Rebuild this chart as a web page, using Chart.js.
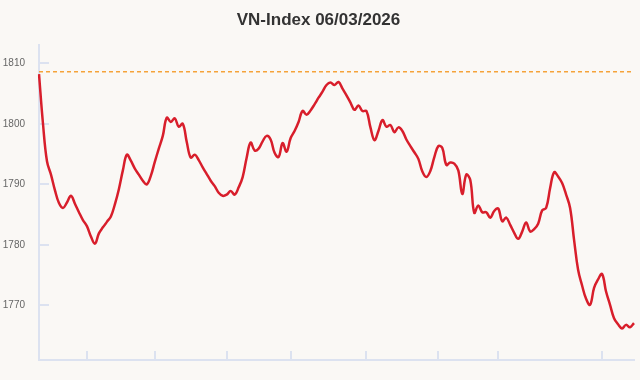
<!DOCTYPE html>
<html>
<head>
<meta charset="utf-8">
<script src="https://cdn.jsdelivr.net/npm/chart.js@4"></script>
<style>
  html, body { margin: 0; padding: 0; background: #faf8f5; }
  #wrap { width: 640px; height: 380px; }
</style>
</head>
<body>
<div id="wrap"><canvas id="myChart" width="640" height="380"></canvas></div>
<script>
var chartTitle = 'VN-Index 06/03/2026';
// intraday index values left to right
var vnIndex = [
  1808.2, 1800.0, 1793.8, 1791.6, 1789.0, 1786.9, 1786.1, 1787.0, 1788.1, 1786.8,
  1785.4, 1784.1, 1783.1, 1781.4, 1780.2, 1781.9, 1782.9, 1783.8, 1784.7, 1786.7,
  1789.2, 1792.3, 1794.9, 1793.9, 1792.6, 1791.6, 1790.6, 1790.0, 1791.4, 1793.7,
  1795.9, 1798.0, 1801.0, 1800.3, 1800.9, 1799.5, 1800.0, 1797.0, 1794.4, 1794.9,
  1794.0, 1792.8, 1791.7, 1790.6, 1789.7, 1788.6, 1788.1, 1788.3, 1788.9, 1788.3,
  1789.5, 1791.2, 1794.4, 1796.9, 1795.6, 1795.9, 1797.1, 1798.0, 1797.4, 1795.2,
  1794.5, 1796.8, 1795.4, 1797.6, 1798.8, 1800.3, 1802.1, 1801.5, 1802.2, 1803.2,
  1804.3, 1805.3, 1806.4, 1806.8, 1806.4, 1806.9, 1805.8, 1804.7, 1803.5, 1802.3,
  1803.0, 1802.1, 1802.1, 1799.4, 1797.3, 1798.8, 1800.6, 1799.5, 1799.8, 1798.6,
  1799.4, 1798.8, 1797.4, 1796.3, 1795.3, 1794.2, 1792.1, 1791.2, 1792.2, 1794.5,
  1796.3, 1796.0, 1793.2, 1793.6, 1793.4, 1792.3, 1788.4, 1791.6, 1790.7, 1785.3,
  1786.5, 1785.4, 1785.4, 1784.5, 1785.6, 1786.0, 1783.9, 1784.5, 1783.3, 1782.0,
  1781.0, 1782.2, 1783.7, 1782.2, 1782.6, 1783.5, 1785.7, 1786.1, 1789.4, 1792.0,
  1791.3, 1790.2, 1788.3, 1786.1, 1780.8, 1775.9, 1773.3, 1771.1, 1770.1, 1772.9,
  1774.3, 1775.2, 1772.3, 1770.1, 1767.9, 1766.9, 1766.2, 1766.8, 1766.4, 1767.1
];
var labels = vnIndex.map(function (v, i) { return String(i); });
var refLevel = 1808.6;   // previous close, dashed line
var yTicks = [1770, 1780, 1790, 1800, 1810];
var xTickIdx = [12, 29, 47, 63, 82, 100, 115, 141];

var axisColor = '#dce2f0';

// short tick marks drawn inside the plot, plus the dashed reference line
var extras = {
  id: 'extras',
  beforeDatasetsDraw: function (chart) {
    var ctx = chart.ctx, area = chart.chartArea;
    var xs = chart.scales.x, ys = chart.scales.y;
    ctx.save();
    ctx.strokeStyle = axisColor;
    ctx.lineWidth = 2;
    ctx.beginPath();
    ys.ticks.forEach(function (t) {
      var py = Math.round(ys.getPixelForValue(t.value));
      ctx.moveTo(area.left, py);
      ctx.lineTo(area.left + 10, py);
    });
    xs.ticks.forEach(function (t) {
      var px = Math.round(xs.getPixelForValue(t.value));
      ctx.moveTo(px, area.bottom);
      ctx.lineTo(px, area.bottom - 9);
    });
    ctx.stroke();

    var ry = ys.getPixelForValue(refLevel);
    ctx.strokeStyle = '#f5a33a';
    ctx.lineWidth = 1.5;
    ctx.setLineDash([4, 3]);
    ctx.beginPath();
    ctx.moveTo(area.left, ry);
    ctx.lineTo(area.right, ry);
    ctx.stroke();
    ctx.restore();
  }
};

var ctx = document.getElementById('myChart').getContext('2d');
var chart = new Chart(ctx, {
  type: 'line',
  data: {
    labels: labels,
    datasets: [{
      label: 'VN-Index',
      data: vnIndex,
      borderColor: '#d81e2b',
      borderWidth: 2.5,
      pointRadius: 0,
      tension: 0.4,
      fill: false
    }]
  },
  options: {
    responsive: false,
    animation: false,
    devicePixelRatio: 1,
    layout: { padding: { left: 3, right: 6, top: 0, bottom: 15 } },
    plugins: {
      legend: { display: false },
      tooltip: { enabled: false },
      title: {
        display: true,
        text: chartTitle,
        color: '#333333',
        font: { family: "'Liberation Sans', Arial, sans-serif", size: 17, weight: 'bold', lineHeight: 1.2 },
        padding: { top: 10, bottom: 14.6 }
      }
    },
    scales: {
      x: {
        grid: { display: false, drawTicks: false },
        border: { color: axisColor, width: 2 },
        ticks: { display: false },
        afterBuildTicks: function (s) {
          s.ticks = xTickIdx.map(function (v) { return { value: v }; });
        }
      },
      y: {
        min: 1761,
        max: 1813,
        grid: { display: false, drawTicks: false },
        border: { color: axisColor, width: 2 },
        ticks: {
          color: '#666666',
          padding: 14,
          font: { family: "'Liberation Sans', Arial, sans-serif", size: 10 },
          callback: function (v) { return String(v); }
        },
        afterBuildTicks: function (s) {
          s.ticks = yTicks.map(function (v) { return { value: v }; });
        },
        // chart.js reserves the tick padding twice; keep the axis narrow
        afterFit: function (s) { s.width = 36; }
      }
    }
  },
  plugins: [extras]
});
</script>
</body>
</html>
